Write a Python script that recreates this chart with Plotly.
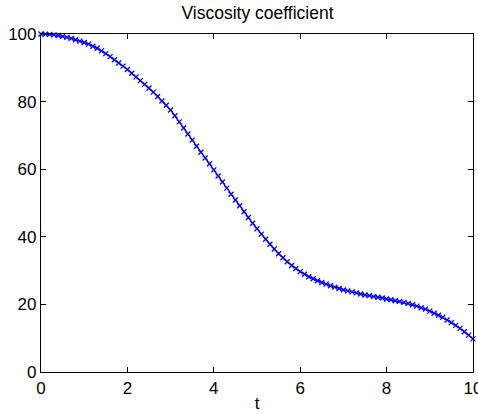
import plotly.graph_objects as go

# time samples and viscosity values (one per marker)
t = [round(0.1 * i, 1) for i in range(101)]
viscosity = [
    100.0, 99.97, 99.9, 99.75, 99.55, 99.3, 99.0, 98.7, 98.3, 97.9,
    97.5, 97.0, 96.4, 95.8, 95.0, 94.2, 93.3, 92.4, 91.4, 90.5,
    89.5, 88.4, 87.3, 86.2, 85.1, 84.0, 82.8, 81.5, 80.2, 78.9,
    77.5, 75.8, 74.0, 72.2, 70.4, 68.6, 66.8, 65.0, 63.3, 61.6,
    59.8, 58.0, 56.2, 54.4, 52.6, 50.9, 49.2, 47.4, 45.7, 44.0,
    42.4, 40.8, 39.3, 37.8, 36.4, 35.0, 33.8, 32.6, 31.5, 30.6,
    29.7, 28.9, 28.2, 27.6, 27.0, 26.5, 26.0, 25.5, 25.1, 24.7,
    24.3, 24.0, 23.7, 23.4, 23.1, 22.8, 22.6, 22.3, 22.1, 21.9,
    21.6, 21.4, 21.1, 20.9, 20.6, 20.3, 19.9, 19.5, 19.0, 18.6,
    18.0, 17.4, 16.8, 16.2, 15.4, 14.6, 13.8, 12.9, 11.9, 10.9,
    9.8,
]
x_ticks = [0, 2, 4, 6, 8, 10]
y_ticks = [0, 20, 40, 60, 80, 100]

fig = go.Figure(go.Scatter(
    x=t, y=viscosity,
    mode="lines+markers",
    line=dict(color="#0000ff", width=1.3),
    marker=dict(symbol="x-thin", size=5, line=dict(color="#0000ff", width=1.3)),
    showlegend=False,
    cliponaxis=False,
))

axis_style = dict(
    showline=True, linecolor="black", linewidth=1.2, mirror="ticks",
    ticks="inside", ticklen=5, tickcolor="black", tickwidth=1,
    showgrid=False, zeroline=False, automargin=False,
    tickfont=dict(size=17), ticklabeloverflow="allow",
)
fig.update_xaxes(range=[0, 10], tickvals=x_ticks,
                 title=dict(text="t", standoff=0, font=dict(size=17)), **axis_style)
fig.update_yaxes(range=[0, 100], tickvals=y_ticks, **axis_style)

fig.update_layout(
    title=dict(text="Viscosity coefficient", x=257.5 / 478, xanchor="center",
               y=1 - 13 / 414, yanchor="middle", font=dict(size=17.5)),
    font=dict(family="Liberation Sans, Arial, sans-serif", size=16, color="black"),
    width=478, height=414,
    margin=dict(l=41, r=5, t=34, b=42),
    plot_bgcolor="white", paper_bgcolor="white",
)

# drop the browser's default 8px body margin so the figure sits at the window origin
fig.write_html("out.html", config={"displayModeBar": False},
               post_script="document.body.style.margin='0';document.body.style.overflow='hidden';")
